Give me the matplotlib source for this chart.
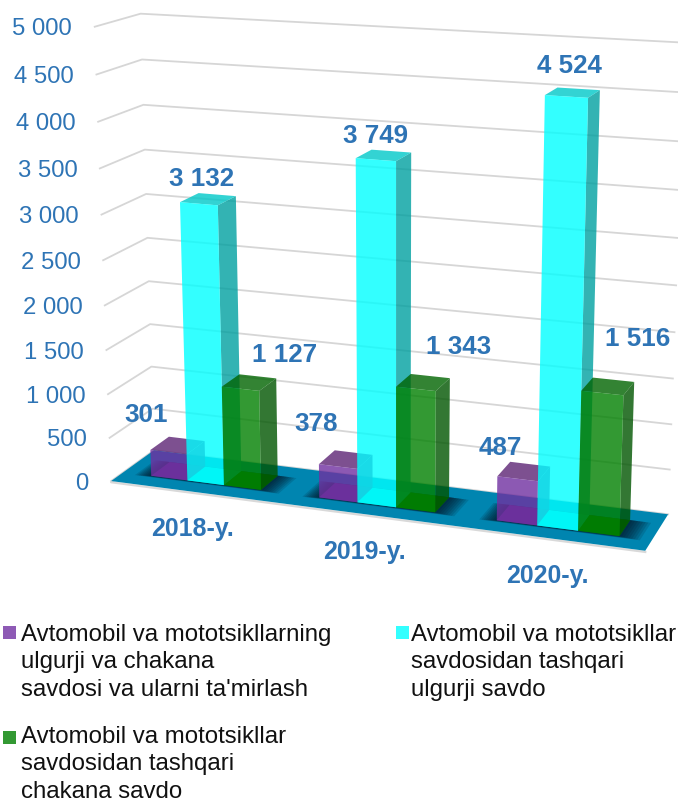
import matplotlib
matplotlib.use("Agg")
import matplotlib.pyplot as plt
import numpy as np

plt.rcParams['font.family'] = ['Liberation Sans', 'DejaVu Sans']

years = ["2018-y.", "2019-y.", "2020-y."]
purple_vals = [301, 378, 487]
cyan_vals = [3132, 3749, 4524]
green_vals = [1127, 1343, 1516]
y_ticks = [0, 500, 1000, 1500, 2000, 2500, 3000, 3500, 4000, 4500, 5000]
legend_lines = [
    "Avtomobil va mototsikllarning\nulgurji va chakana\nsavdosi va ularni ta'mirlash",
    "Avtomobil va mototsikllar\nsavdosidan tashqari\nulgurji savdo",
    "Avtomobil va mototsikllar\nsavdosidan tashqari\nchakana savdo",
]

blue_text = "#2E74B5"
# front, side, top colours per series
series_cols = [("#7030A0", "#5C2475", "#5C2475"),
               ("#00FFFF", "#00A0A0", "#00C8C8"),
               ("#008000", "#005500", "#006400")]
legend_cols = ["#8E5AB5", "#33FFFF", "#339933"]
alpha = 0.8
gap = 1.55
w_front, w_back = 0.28, 0.72

# camera: (u across, w depth, v thousands) -> pixel, fitted from points
calib_world = [
    (0, 0, 0), (1, 0, 0), (0, 1, 0), (1, 1, 0), (0, 1, 5), (0, 0, 5), (0, 1, 1), (1, 1, 5),
    (.13, .28, 0), (.2033, .28, 0), (.13, .28, 3.132), (.2033, .28, 3.132),
    (.13, .72, 3.132), (.2033, .72, 3.132),
    (.7968, .28, 0), (.8701, .28, 0), (.7968, .28, 4.524), (.8701, .28, 4.524),
    (.7968, .72, 4.524), (.8701, .72, 4.524), (.9434, .28, 0), (.9434, .72, 0),
]
calib_px = [
    (112, 482), (645, 552), (152, 452), (668, 515), (142, 14), (93, 28), (152.5, 367), (684, 43),
    (187, 481), (224, 485.5), (180, 203), (219, 206),
    (198, 195), (236, 198),
    (537, 526), (578, 532), (545.6, 96), (588, 99),
    (557, 89), (600, 91), (620, 537), (630.7, 521.7),
]


def fit_camera(world, px):
    rows = []
    for (a, b, c), (x, y) in zip(world, px):
        rows.append([a, b, c, 1, 0, 0, 0, 0, -x*a, -x*b, -x*c, -x])
        rows.append([0, 0, 0, 0, a, b, c, 1, -y*a, -y*b, -y*c, -y])
    return np.linalg.svd(np.array(rows))[2][-1].reshape(3, 4)


P = fit_camera(calib_world, calib_px)


def proj(u, w, v):
    p = P @ np.array([u, w, v, 1.0])
    return p[0]/p[2], p[1]/p[2]


def quad(ax, pts, color, a=1.0, z=2, **kw):
    xy = [proj(*p) for p in pts]
    ax.fill([q[0] for q in xy], [q[1] for q in xy], color=color, alpha=a, lw=0, zorder=z, **kw)


def draw_bar(ax, u0, u1, w0, w1, v, cols, z):
    front, side, top = cols
    quad(ax, [(u0, w1, 0), (u1, w1, 0), (u1, w0, 0), (u0, w0, 0)], front, alpha, z)
    quad(ax, [(u1, w0, 0), (u1, w1, 0), (u1, w1, v), (u1, w0, v)], side, alpha, z)
    quad(ax, [(u0, w0, v), (u1, w0, v), (u1, w1, v), (u0, w1, v)], top, alpha, z)
    quad(ax, [(u0, w0, 0), (u1, w0, 0), (u1, w0, v), (u0, w0, v)], front, alpha, z)


fig = plt.figure(figsize=(6.78, 8.03), dpi=100)
ax = fig.add_axes([0, 0, 1, 1])
ax.set_xlim(0, 678)
ax.set_ylim(803, 0)
ax.axis("off")

# walls
for t in y_ticks:
    v = t/1000
    pts = [proj(0, 0, v), proj(0, 1, v), proj(1, 1, v)]
    ax.plot([q[0] for q in pts], [q[1] for q in pts], color="#D6D6D6", lw=1.3, zorder=1)
    x, y = proj(0, 0, v)
    lab = f"{t:,}".replace(",", " ")
    ax.text(x-22.5, y+1.5, lab, color=blue_text, fontsize=17.2, ha="right", va="center", zorder=6)

# floor
floor_pts = [(0, 0, 0), (1, 0, 0), (1, 1, 0), (0, 1, 0)]
fx = [proj(*p)[0] for p in [floor_pts[3], floor_pts[0], floor_pts[1]]]
fy = [proj(*p)[1] for p in [floor_pts[3], floor_pts[0], floor_pts[1]]]
ax.plot(fx, [q+1.2 for q in fy], color="#D9D9D9", lw=1.6, zorder=1.5)
quad(ax, floor_pts, "#0085B0", 1.0, 1.6)

# floor shadows under each group
for i in range(3):
    u_a = (i + gap/2/(3+gap))/3
    u_b = (i + (gap/2+3)/(3+gap))/3
    for k in range(8):
        du = 0.03*(1-k/8)
        dw = 0.16*(1-k/8)
        quad(ax, [(u_a-du, w_front-dw*.25, 0), (u_b+du*1.25, w_front-dw*.25, 0),
                  (u_b+du*1.25, w_back, 0), (u_a-du, w_back, 0)], "#001020", 0.14, 1.7)

# bars, left to right so nearer faces go on top
all_vals = [purple_vals, cyan_vals, green_vals]
for i in range(3):
    for j in range(3):
        u0 = (i + (gap/2+j)/(3+gap))/3
        u1 = (i + (gap/2+j+1)/(3+gap))/3
        draw_bar(ax, u0, u1, w_front, w_back, all_vals[j][i]/1000, series_cols[j], 3+i+j*0.1)

# data labels, offset from the top centre of each bar
label_offsets = [[(-22, -38), (-22, -44), (-17, -32)],
                 [(3, -26), (0, -25), (3, -31)],
                 [(44, -35), (43, -43), (35, -55)]]
for j in range(3):
    for i in range(3):
        u0 = (i + (gap/2+j)/(3+gap))/3
        u1 = (i + (gap/2+j+1)/(3+gap))/3
        val = all_vals[j][i]
        x, y = proj((u0+u1)/2, w_front, val/1000)
        ax.text(x+label_offsets[j][i][0], y+label_offsets[j][i][1], f"{val:,}".replace(",", " "),
                color=blue_text, fontsize=18.7, fontweight="bold", ha="center", va="center", zorder=7)

# category labels
for i, name in enumerate(years):
    x, y = proj((i+.5)/3, 0, 0)
    ax.text(x-2, y+36.5, name, color=blue_text, fontsize=17.9, fontweight="bold",
            ha="center", va="center", zorder=7)

# legend
legend_pos = [(3, 627, 21), (396, 627, 411), (3, 732, 21)]
text_shift = [-3, -3, -6]
for (sx, sy, tx), txt, col, dy in zip(legend_pos, legend_lines, legend_cols, text_shift):
    ax.add_patch(plt.Rectangle((sx, sy), 13, 13, color=col, lw=0, zorder=7))
    ax.text(tx, sy+dy, txt, color="#111111", fontsize=17.3, ha="left", va="top",
            linespacing=1.32, zorder=7)

fig.savefig("out.png", dpi=100)
